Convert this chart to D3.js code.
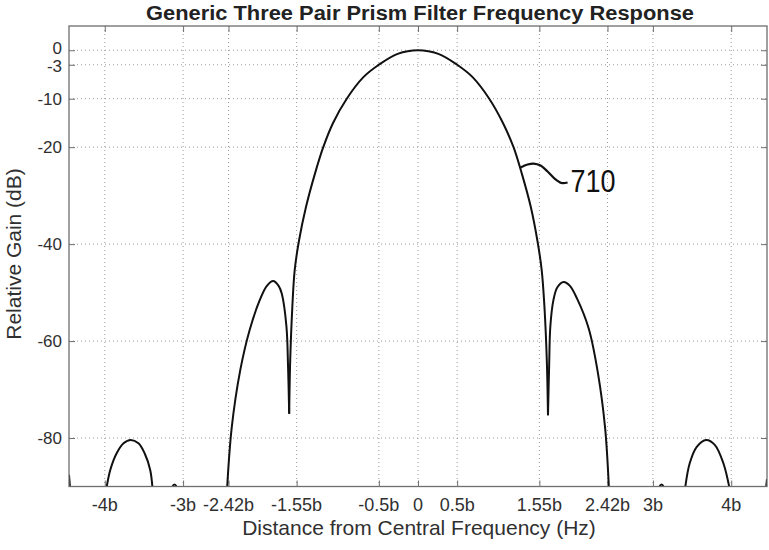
<!DOCTYPE html>
<html>
<head>
<meta charset="utf-8">
<script src="https://cdn.jsdelivr.net/npm/d3@7"></script>
<style>
  html, body { margin: 0; padding: 0; background: #fff; }
  svg { display: block; }
  text { font-family: "Liberation Sans", Arial, Helvetica, sans-serif; }
</style>
</head>
<body>
<svg id="chart" width="769" height="550"></svg>
<script>
// ---------------- data (frequency in units of b, gain in dB) ----------------
const title = "Generic Three Pair Prism Filter Frequency Response";
const xLabel = "Distance from Central Frequency (Hz)";
const yLabel = "Relative Gain (dB)";

const xTickValues = [-4, -3, -2.42, -1.55, -0.5, 0, 0.5, 1.55, 2.42, 3, 4];
const xTickLabels = ["-4b", "-3b", "-2.42b", "-1.55b", "-0.5b", "0", "0.5b", "1.55b", "2.42b", "3b", "4b"];
const yTickValues = [0, -3, -10, -20, -40, -60, -80];
const yTickLabels = ["0", "-3", "-10", "-20", "-40", "-60", "-80"];

const xDomain = [-4.457, 4.457];
const yDomain = [-90, 5];

// curve segments
const edgeLeft = [[-4.457, -87.6], [-4.45, -89], [-4.44, -91]];
const farLobeLeft = [[-3.98, -90.5], [-3.93, -86.6], [-3.85, -83.2], [-3.76, -81.1], [-3.67, -80.4],
                     [-3.57, -81.1], [-3.49, -83.2], [-3.42, -86.6], [-3.39, -90.5]];
const blipLeft = [[-3.15, -90.4], [-3.11, -89.6], [-3.07, -90.4]];
const sideLobeLeft = [[-2.44, -91], [-2.38, -78], [-2.27, -66], [-2.15, -57.7], [-2.02, -51.5],
                      [-1.93, -48.6], [-1.85, -47.6], [-1.78, -48.6], [-1.74, -50.2], [-1.68, -57],
                      [-1.66, -65], [-1.645, -75]];
const mainLobe = [[-1.645, -75], [-1.632, -64], [-1.605, -53], [-1.575, -45.4], [-1.52, -39.3],
                  [-1.43, -32.3], [-1.315, -25.4], [-1.21, -20], [-1.085, -15.0], [-0.91, -10],
                  [-0.70, -5.6], [-0.50, -3], [-0.26, -0.75], [0, 0], [0.26, -0.75], [0.50, -3],
                  [0.70, -5.6], [0.91, -10], [1.085, -15.0], [1.22, -20], [1.325, -25.4],
                  [1.44, -32.3], [1.525, -39.3], [1.58, -45.4], [1.615, -53], [1.645, -64], [1.66, -75.3]];
const sideLobeRight = [[1.66, -75.3], [1.675, -65], [1.69, -57], [1.73, -51.5], [1.78, -48.9],
                       [1.86, -47.8], [1.94, -48.6], [2.03, -51.2], [2.18, -57.4], [2.30, -66.8],
                       [2.39, -78], [2.44, -91]];
const blipRight = [[3.07, -90.4], [3.11, -89.6], [3.15, -90.4]];
const farLobeRight = [[3.41, -90.5], [3.47, -85.2], [3.56, -81.8], [3.68, -80.4], [3.79, -81.4],
                      [3.90, -85.2], [3.98, -90.5]];
const edgeRight = [[4.44, -91], [4.45, -89.5], [4.457, -88.5]];

const segments = [edgeLeft, farLobeLeft, blipLeft, sideLobeLeft, mainLobe,
                  sideLobeRight, blipRight, farLobeRight, edgeRight];

const annotation = { label: "710", at: [1.31, -24.2] };

// ---------------- layout ----------------
const W = 769, H = 550;
const plot = { left: 69, right: 767, top: 26, bottom: 486.5 };

const svg = d3.select("#chart");
const x = d3.scaleLinear().domain(xDomain).range([plot.left, plot.right]);
const y = d3.scaleLinear().domain(yDomain).range([plot.bottom, plot.top]);

const gridColor = "#9a9a9a";
const frameColor = "#6e6e6e";
const textColor = "#303030";

// grid
const grid = svg.append("g");
grid.selectAll("line.vx").data(xTickValues).join("line")
  .attr("x1", d => x(d)).attr("x2", d => x(d))
  .attr("y1", plot.top).attr("y2", plot.bottom)
  .attr("stroke", gridColor).attr("stroke-width", 1)
  .attr("stroke-dasharray", "1,3");
grid.selectAll("line.hy").data(yTickValues).join("line")
  .attr("x1", plot.left).attr("x2", plot.right)
  .attr("y1", d => y(d)).attr("y2", d => y(d))
  .attr("stroke", gridColor).attr("stroke-width", 1)
  .attr("stroke-dasharray", "1,3");

// axes (MATLAB-like inward ticks on all four sides)
const tickLen = 6;
const xAxisB = d3.axisTop(x).tickValues(xTickValues).tickSize(tickLen).tickFormat("");
const xAxisT = d3.axisBottom(x).tickValues(xTickValues).tickSize(tickLen).tickFormat("");
const yAxisL = d3.axisRight(y).tickValues(yTickValues).tickSize(tickLen).tickFormat("");
const yAxisR = d3.axisLeft(y).tickValues(yTickValues).tickSize(tickLen).tickFormat("");

function styleAxis(g) {
  g.select(".domain").remove();
  g.selectAll(".tick line").attr("stroke", frameColor).attr("stroke-width", 1);
}
svg.append("g").attr("transform", `translate(0,${plot.bottom})`).call(xAxisB).call(styleAxis);
svg.append("g").attr("transform", `translate(0,${plot.top})`).call(xAxisT).call(styleAxis);
svg.append("g").attr("transform", `translate(${plot.left},0)`).call(yAxisL).call(styleAxis);
svg.append("g").attr("transform", `translate(${plot.right},0)`).call(yAxisR).call(styleAxis);

// tick labels
svg.append("g").selectAll("text").data(xTickValues).join("text")
  .attr("x", d => x(d)).attr("y", 511)
  .attr("text-anchor", "middle").attr("font-size", 18).attr("fill", textColor)
  .text((d, i) => xTickLabels[i]);
svg.append("g").selectAll("text").data(yTickValues).join("text")
  .attr("x", plot.left - 7).attr("y", d => y(d)).attr("dy", d => d === 0 ? "0.2em" : (d === -3 ? "0.45em" : "0.36em"))
  .attr("text-anchor", "end").attr("font-size", 17).attr("fill", textColor)
  .text((d, i) => yTickLabels[i]);

// curve
svg.append("defs").append("clipPath").attr("id", "clip")
  .append("rect").attr("x", plot.left).attr("y", plot.top)
  .attr("width", plot.right - plot.left).attr("height", plot.bottom - plot.top);

const line = d3.line().x(d => x(d[0])).y(d => y(d[1])).curve(d3.curveCatmullRom.alpha(0.5));
svg.append("g").attr("clip-path", "url(#clip)")
  .selectAll("path").data(segments).join("path")
  .attr("d", line)
  .attr("fill", "none").attr("stroke", "#111").attr("stroke-width", 2)
  .attr("stroke-linejoin", "round");

// frame
svg.append("rect")
  .attr("x", plot.left).attr("y", plot.top)
  .attr("width", plot.right - plot.left).attr("height", plot.bottom - plot.top)
  .attr("fill", "none").attr("stroke", frameColor).attr("stroke-width", 1.3);

// annotation 710
const ax = x(annotation.at[0]), ay = y(annotation.at[1]);
const leader = [[0, 0], [7, -3], [13, -4], [20, -2], [27, 4], [34, 11], [41, 15.5], [47, 15]];
svg.append("path")
  .attr("d", d3.line().x(d => ax + d[0]).y(d => ay + d[1]).curve(d3.curveCatmullRom)(leader))
  .attr("fill", "none").attr("stroke", "#111").attr("stroke-width", 2.2);
svg.append("text")
  .attr("x", ax + 50).attr("y", ay + 24)
  .attr("font-size", 31).attr("fill", "#111")
  .attr("textLength", 45).attr("lengthAdjust", "spacingAndGlyphs")
  .text(annotation.label);

// titles
svg.append("text")
  .attr("x", 420).attr("y", 20)
  .attr("text-anchor", "middle").attr("font-size", 20).attr("font-weight", "bold")
  .attr("fill", "#222")
  .attr("textLength", 548).attr("lengthAdjust", "spacingAndGlyphs")
  .text(title);
svg.append("text")
  .attr("x", 419).attr("y", 535)
  .attr("text-anchor", "middle").attr("font-size", 21).attr("fill", textColor)
  .text(xLabel);
svg.append("text")
  .attr("transform", `translate(21,254) rotate(-90)`)
  .attr("text-anchor", "middle").attr("font-size", 21).attr("fill", textColor)
  .text(yLabel);
</script>
</body>
</html>
